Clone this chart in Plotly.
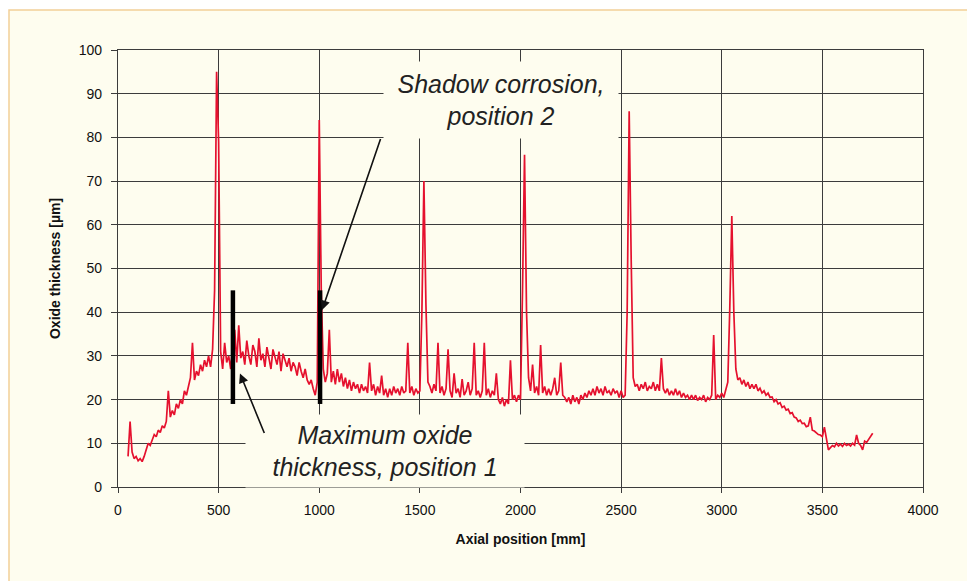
import plotly.graph_objects as go

# Axial positions [mm] (10 mm sampling) and oxide thickness [µm]
axial_mm = list(range(50, 3760, 10))
oxide_um = [
    7, 15, 8, 6.5, 7, 6, 6.5, 5.8, 7, 8.5,                 # 50-140
    10, 9.5, 11, 12, 11.5, 13, 12.5, 14, 13.5, 15,          # 150-240
    22, 16, 17.5, 16.5, 19, 18, 20, 19, 22, 21,             # 250-340
    23, 25, 33, 24.5, 26.5, 25.5, 28, 26.5, 29, 27.5,       # 350-440
    30, 27.5, 31.5, 45, 95, 79, 31, 27, 33, 28.5,           # 450-540
    30, 27, 32.5, 36, 28.5, 37, 29.5, 31, 28, 33.5,         # 550-640
    30, 28, 32.5, 31, 27.5, 34, 29, 30.5, 27.5, 32,         # 650-740
    29.5, 27, 31.5, 30, 28, 31, 26.5, 30.5, 29, 27.5,       # 750-840
    29.5, 26.5, 28.5, 27.5, 25.5, 28.5, 26.5, 25, 27, 24.5, # 850-940
    23.5, 24.5, 22.5, 21, 24, 84, 45, 27, 24, 26,           # 950-1040
    36, 24, 26.5, 23.5, 27, 24, 26, 23, 25, 22.5,           # 1050-1140
    24.5, 22, 24, 22.5, 23.5, 21.5, 23.5, 22, 23, 21.5,     # 1150-1240
    28.5, 22, 23.5, 21, 23, 21.5, 25.5, 21, 22.5, 20.5,     # 1250-1340
    22.5, 21, 23, 21.5, 22.5, 21, 23, 21.5, 22, 33,         # 1350-1440
    21.5, 23, 21, 22.5, 21.5, 22, 40, 70, 42, 24,           # 1450-1540
    23, 21.5, 23.5, 22, 33, 21.5, 23, 21, 22.5, 31.5,       # 1550-1640
    22, 20.5, 26, 21.5, 22.5, 20.5, 24.7, 21, 22, 24,       # 1650-1740
    21, 22.5, 33, 21, 22, 20.5, 22, 33, 21, 22.5,           # 1750-1840
    20.5, 22, 21, 26, 20, 19, 20.5, 18.5, 20, 19,           # 1850-1940
    29, 20, 21, 19.5, 21, 20, 45, 76, 40, 25,               # 1950-2040
    22, 28, 21.5, 23, 21, 32.5, 21.5, 23, 21, 22.5,         # 2050-2140
    21, 22.5, 25, 21, 22, 28.5, 21, 20.5, 19.5, 20.5,       # 2150-2240
    19, 21, 19.5, 20.5, 19, 21, 20, 21.5, 20.5, 22,         # 2250-2340
    21, 22.5, 21, 23, 21.5, 22.5, 21, 23, 21.5, 22,         # 2350-2440
    21, 22.5, 21.5, 22, 20.5, 22, 20.5, 21, 40, 86,         # 2450-2540
    52, 25, 23, 23.5, 22, 23.5, 22.5, 24, 22, 23,           # 2550-2640
    22.5, 24, 22, 23.5, 22, 29.5, 22.5, 21.5, 22.5, 21,     # 2650-2740
    22, 21, 22.5, 21, 22, 20.5, 21.5, 20.5, 21, 20,         # 2750-2840
    21, 20, 21, 19.8, 20.5, 20, 21, 19.5, 20.5, 20,         # 2850-2940
    21, 34.8, 20, 21, 20.5, 21.5, 20.5, 22, 24, 41,         # 2950-3040
    62, 40, 27, 24.5, 25, 23.5, 24.5, 23, 24, 22.5,         # 3050-3140
    23.5, 22.5, 23.5, 22, 22.6, 21.5, 22, 21, 21.5, 20.5,   # 3150-3240
    20.6, 19.5, 20, 19, 19.3, 18.2, 18.5, 17.6, 17.8, 16.8, # 3250-3340
    17, 16, 15.8, 15, 15.3, 14.5, 14.6, 13.8, 14, 16,       # 3350-3440
    13, 12.8, 12.3, 12, 11.9, 11.5, 13.7, 10.5, 8.5, 9,     # 3450-3540
    9.5, 9.2, 10, 9.4, 9.8, 9.3, 10, 9.5, 9.8, 9.4,         # 3550-3640
    10, 9.6, 11.9, 10, 9.5, 8.5, 10.5, 10.2, 11, 11.5,      # 3650-3740
    12.3,                                                   # 3750
]

# Measurement positions marked with black bars [mm] and their extent [µm]
marker_x = [571, 1004]
marker_low = [19, 19]
marker_high = [45, 45]

x_ticks = [0, 500, 1000, 1500, 2000, 2500, 3000, 3500, 4000]
y_ticks = [0, 10, 20, 30, 40, 50, 60, 70, 80, 90, 100]

BG = "#FEFDEF"
GRID = "#3c3c3c"
TXT = "#222222"

fig = go.Figure()
fig.add_trace(go.Scatter(x=axial_mm, y=oxide_um, mode="lines",
                         line=dict(color="#E5112E", width=1.7), showlegend=False))
for mx, lo, hi in zip(marker_x, marker_low, marker_high):
    fig.add_trace(go.Scatter(x=[mx, mx], y=[lo, hi], mode="lines",
                             line=dict(color="black", width=4.5), showlegend=False))

OFF = 8  # page body margin
W, H = 967, 573
L, R, T, B = 110, 52, 42, 94
pw, ph = W - L - R, H - T - B


def px(xp):
    return (xp - OFF - L) / pw


def py(yp):
    return (H - B - (yp - OFF)) / ph


# outer framed background
fig.add_shape(type="rect", xref="paper", yref="paper",
              x0=px(9), x1=px(1000), y0=py(10), y1=py(620),
              fillcolor=BG, line=dict(color="#F2CF98", width=1.5), layer="below")

anno_font = dict(family="Liberation Sans, Arial, sans-serif", size=25, color=TXT, style="italic")
fig.add_annotation(x=px(501), y=py(100), xref="paper", yref="paper",
                   text="Shadow corrosion,<br>position 2", showarrow=False,
                   font=anno_font, bgcolor=BG, width=232, height=74,
                   xanchor="center", yanchor="middle")
fig.add_annotation(x=px(385), y=py(451), xref="paper", yref="paper",
                   text="Maximum oxide<br>thickness, position 1", showarrow=False,
                   font=anno_font, bgcolor=BG, width=276, height=70,
                   xanchor="center", yanchor="middle")
# arrows
fig.add_annotation(x=1014, y=40.5, ax=1307, ay=80, xref="x", yref="y", axref="x", ayref="y",
                   text="", showarrow=True, arrowhead=2, arrowsize=1.2, arrowwidth=1.6,
                   arrowcolor="#111")
fig.add_annotation(x=606, y=26, ax=730, ay=12, xref="x", yref="y", axref="x", ayref="y",
                   text="", showarrow=True, arrowhead=2, arrowsize=1.2, arrowwidth=1.6,
                   arrowcolor="#111")

tick_font = dict(family="Liberation Sans Narrow, Arial Narrow, Liberation Sans, sans-serif",
                 size=14, color="#111")
title_font = dict(family="Liberation Sans Narrow, Arial Narrow, Liberation Sans, sans-serif",
                  size=14, color="#111", weight="bold")

fig.update_xaxes(range=[0, 4000], tickvals=x_ticks, ticktext=[str(v) for v in x_ticks],
                 showgrid=True, gridcolor=GRID, gridwidth=1.3, showline=True,
                 linecolor=GRID, linewidth=1.3, mirror=True, ticks="outside", ticklen=5,
                 tickcolor=GRID, tickfont=tick_font, zeroline=False, ticklabelstandoff=5,
                 title=dict(text="Axial position [mm]", font=title_font, standoff=17))
fig.update_yaxes(range=[0, 100], tickvals=y_ticks, ticktext=[str(v) for v in y_ticks],
                 showgrid=True, gridcolor=GRID, gridwidth=1.3, showline=True,
                 linecolor=GRID, linewidth=1.3, mirror=True, ticks="outside", ticklen=6,
                 tickcolor=GRID, tickfont=tick_font, zeroline=False, ticklabelstandoff=6,
                 title=dict(text="Oxide thickness [µm]", font=title_font, standoff=14))

fig.update_layout(width=W, height=H, margin=dict(l=L, r=R, t=T, b=B, autoexpand=False),
                  paper_bgcolor="white", plot_bgcolor=BG, showlegend=False)

fig.write_html("out.html")
